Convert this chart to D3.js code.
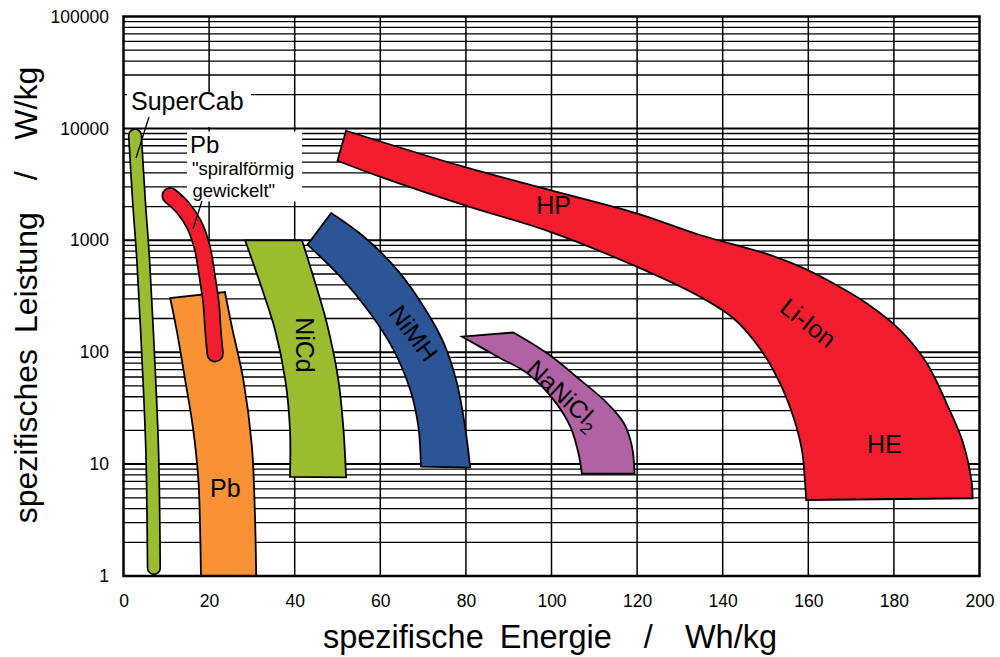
<!DOCTYPE html>
<html>
<head>
<meta charset="utf-8">
<script src="https://cdn.jsdelivr.net/npm/d3@7"></script>
<style>
  html, body { margin: 0; padding: 0; background: #fff; }
  svg { display: block; font-family: "Liberation Sans", Arial, sans-serif; }
</style>
</head>
<body>
<svg id="chart" width="1000" height="657"></svg>
<script>
// Ragone-Diagramm: spezifische Leistung über spezifischer Energie
const energyTicks = [0, 20, 40, 60, 80, 100, 120, 140, 160, 180, 200];
const powerTicks = [1, 10, 100, 1000, 10000, 100000];

// Schmale Bänder als Mittellinie [Wh/kg, W/kg]
const superCabLine = [[2.7, 8630], [3.6, 2300], [4.6, 670], [5.7, 105], [6.7, 13.4], [7.1, 1.18]];
const pbSpiralLine = [[10.9, 2500], [13.9, 1950], [16.5, 1380], [18.4, 860], [19.5, 490], [20.5, 265], [20.9, 159], [21.4, 97]];

// Flächen: obere/rechte Kante und untere/linke Kante, jeweils von oben nach unten
const pbOuter = [[23.7, 345], [25.3, 170], [28.0, 56.6], [30.0, 14.4], [30.7, 3.66], [31.0, 1]];
const pbInner = [[10.9, 305], [12.4, 159], [14.4, 56.6], [16.3, 20.2], [17.5, 7.2], [17.9, 2.6], [18.1, 1]];

const nicdOuter = [[41.7, 1000], [43.6, 585], [47.5, 182], [50.2, 56.6], [51.4, 20.2], [52.0, 7.6]];
const nicdInner = [[28.4, 1000], [31.9, 415], [35.4, 159], [37.8, 56.6], [38.9, 20.2], [38.9, 7.7]];

const nimhOuter = [[48.5, 1750], [56.1, 1080], [63.9, 546], [70.1, 256], [74.8, 121], [77.9, 52.9], [79.8, 21.6], [81.0, 9.3]];
const nimhInner = [[43.0, 914], [50.6, 475], [57.6, 224], [63.1, 105], [67.0, 46.1], [68.9, 21.6], [69.5, 9.5]];

const naniclOuter = [[91.1, 150], [98.9, 98.2], [106.7, 56.6], [113.0, 35.1], [116.9, 23.2], [118.8, 14.4], [119.4, 8.2]];
const naniclInner = [[79.1, 138], [87.3, 91.6], [94.3, 65.0], [100.5, 37.5], [104.4, 21.6], [106.3, 12.5], [107.1, 8.2]];

const liionOuter = [[52.0, 9530], [79.4, 4550], [99.7, 2810], [119.9, 1740], [134.7, 1115], [150.3, 755], [158.1, 581], [165.8, 413], [173.6, 274], [181.4, 158], [187.7, 79.6], [192.3, 34.9], [196.2, 15.3], [198.2, 6.74], [198.4, 4.95]];
const liionInner = [[50.0, 5140], [59.9, 3700], [79.4, 2070], [99.7, 1190], [119.9, 581], [134.7, 313], [142.5, 201], [148.7, 108], [153.4, 52.7], [156.5, 26.5], [158.5, 13.4], [159.2, 7.21], [159.5, 4.78]];

const regions = [
  { name: "Pb", outer: pbOuter, inner: pbInner, fill: "#F99234" },
  { name: "NiCd", outer: nicdOuter, inner: nicdInner, fill: "#9ABC2E" },
  { name: "NiMH", outer: nimhOuter, inner: nimhInner, fill: "#2C5597" },
  { name: "NaNiCl2", outer: naniclOuter, inner: naniclInner, fill: "#B062A4" },
  { name: "Li-Ion", outer: liionOuter, inner: liionInner, fill: "#F21E2D" }
];
const tubes = [
  { line: superCabLine, fill: "#9ABC2E", width: 11 },
  { line: pbSpiralLine, fill: "#F21E2D", width: 14 }
];

const svg = d3.select("#chart");
const x = d3.scaleLinear().domain([0, 200]).range([123.5, 979.5]);
const y = d3.scaleLog().domain([1, 100000]).range([576, 16.5]);

// Raster
const grid = svg.append("g");
const hLines = [];
for (let d = 0; d < 5; d++) {
  for (let m = 1; m <= 9; m++) hLines.push({ v: m * Math.pow(10, d), major: m === 1 });
}
grid.selectAll("line.h").data(hLines).join("line")
  .attr("x1", x(0)).attr("x2", x(200))
  .attr("y1", d => y(d.v)).attr("y2", d => y(d.v))
  .attr("stroke", "#000").attr("stroke-width", d => d.major ? 2 : 1.3);
grid.selectAll("line.v").data(energyTicks.slice(1, -1)).join("line")
  .attr("x1", d => x(d)).attr("x2", d => x(d))
  .attr("y1", y(1)).attr("y2", y(100000))
  .attr("stroke", "#000").attr("stroke-width", 1.5);

// Beschriftungskästen
svg.append("rect").attr("x", 127).attr("y", 92).attr("width", 124).attr("height", 35).attr("fill", "#fff");
svg.append("rect").attr("x", 187).attr("y", 131.5).attr("width", 115).attr("height", 70).attr("fill", "#fff");

const curve = d3.line().x(d => x(d[0])).y(d => y(d[1])).curve(d3.curveCatmullRom.alpha(0.5));

svg.append("g").selectAll("path").data(regions).join("path")
  .attr("d", r => curve(r.outer) + curve(r.inner.slice().reverse()).replace(/^M/, "L") + "Z")
  .attr("fill", r => r.fill)
  .attr("stroke", "#000").attr("stroke-width", 1.8).attr("stroke-linejoin", "miter");

const tubeG = svg.append("g");
tubes.forEach(t => {
  tubeG.append("path").attr("d", curve(t.line)).attr("fill", "none")
    .attr("stroke", "#000").attr("stroke-width", t.width + 3.4).attr("stroke-linecap", "round");
  tubeG.append("path").attr("d", curve(t.line)).attr("fill", "none")
    .attr("stroke", t.fill).attr("stroke-width", t.width).attr("stroke-linecap", "round");
});

// Rahmen
svg.append("rect").attr("x", x(0)).attr("y", y(100000))
  .attr("width", x(200) - x(0)).attr("height", y(1) - y(100000))
  .attr("fill", "none").attr("stroke", "#000").attr("stroke-width", 2.5);

// Achsen
const xAxis = svg.append("g").attr("transform", `translate(0,${y(1)})`)
  .call(d3.axisBottom(x).tickValues(energyTicks).tickSize(0).tickPadding(18.5).tickFormat(d3.format("d")));
const yAxis = svg.append("g").attr("transform", `translate(${x(0)},0)`)
  .call(d3.axisLeft(y).tickValues(powerTicks).tickSize(0).tickPadding(14.5).tickFormat(d3.format("d")));
[xAxis, yAxis].forEach(a => {
  a.select(".domain").remove();
  a.selectAll("text").attr("font-family", "Liberation Sans, Arial, sans-serif")
    .attr("font-size", 17.5).attr("fill", "#000");
});

svg.append("text").attr("x", 550).attr("y", 648).attr("text-anchor", "middle")
  .attr("font-size", 32.5).style("white-space", "pre").style("word-spacing", "7px")
  .text("spezifische Energie  /  Wh/kg");
svg.append("text").attr("transform", "translate(37,295) rotate(-90)").attr("text-anchor", "middle")
  .attr("font-size", 32).style("white-space", "pre").style("word-spacing", "7px")
  .text("spezifisches Leistung  /  W/kg");

// Bezeichnungen in den Flächen
const labels = [
  { t: "HP", e: 100.5, p: 2050, r: 0 },
  { t: "Li-Ion", e: 160, p: 183, r: 38 },
  { t: "HE", e: 177.8, p: 14.9, r: 0 },
  { t: "NiCd", e: 42.4, p: 116, r: 90 },
  { t: "NiMH", e: 67.75, p: 148, r: 53 },
  { t: "Pb", e: 23.8, p: 6.1, r: 0 }
];
svg.append("g").selectAll("text").data(labels).join("text")
  .attr("transform", d => `translate(${x(d.e)},${y(d.p)}) rotate(${d.r})`)
  .attr("text-anchor", "middle").attr("dy", "0.35em").attr("font-size", 25).text(d => d.t);

const nacl = svg.append("text")
  .attr("transform", `translate(${x(102.8)},${y(41.6)}) rotate(43)`)
  .attr("text-anchor", "middle").attr("dy", "0.35em").attr("font-size", 25);
nacl.append("tspan").text("NaNiCl");
nacl.append("tspan").attr("font-size", 17).attr("dy", 6).text("2");

// Hinweistexte mit Zeigerlinien
svg.append("text").attr("x", 131).attr("y", 110).attr("font-size", 25).text("SuperCab");
svg.append("line").attr("x1", 149).attr("y1", 117).attr("x2", 136).attr("y2", 158)
  .attr("stroke", "#000").attr("stroke-width", 1.3);
svg.append("text").attr("x", 190).attr("y", 153).attr("font-size", 24).text("Pb");
svg.append("text").attr("x", 192).attr("y", 175).attr("font-size", 18.5).text("\"spiralförmig");
svg.append("text").attr("x", 192.5).attr("y", 196.5).attr("font-size", 18.5).text("gewickelt\"");
svg.append("line").attr("x1", 202).attr("y1", 201).attr("x2", 193).attr("y2", 229)
  .attr("stroke", "#000").attr("stroke-width", 1.3);
</script>
</body>
</html>
